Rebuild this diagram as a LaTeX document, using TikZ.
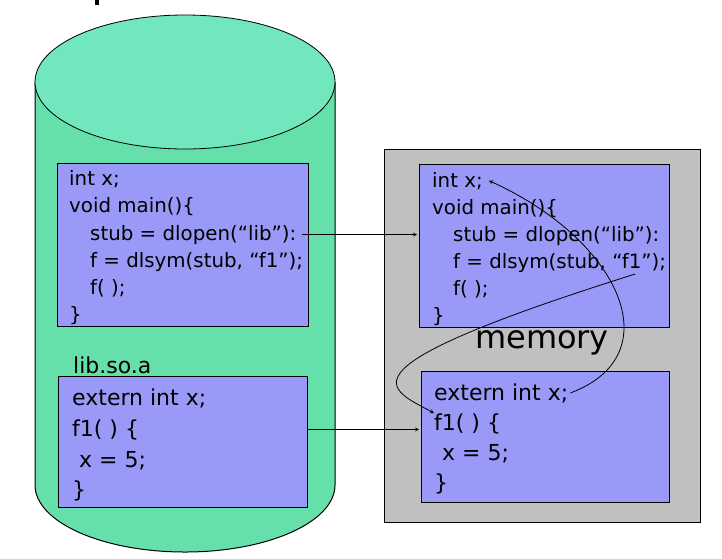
\documentclass[tikz,border=0pt]{standalone}
\usepackage{fontspec}
\setmainfont{DejaVu Sans}
\definecolor{diskside}{RGB}{102,224,170}
\definecolor{disktop}{RGB}{114,230,188}
\definecolor{codeblue}{RGB}{153,153,247}
\definecolor{memgray}{RGB}{192,192,192}
\tikzset{
  codebox/.style={draw=black, line width=1pt, fill=codeblue, anchor=north west, inner sep=0pt},
  smallcode/.style={anchor=base west, inner sep=0pt, font=\fontsize{19.8}{24}\selectfont},
  bigcode/.style={anchor=base west, inner sep=0pt, font=\fontsize{22}{26}\selectfont},
  link/.style={->, line width=0.8pt},
}
\begin{document}
\begin{tikzpicture}[x=1pt, y=-1pt, >=stealth]
    \useasboundingbox (0,0) rectangle (722,558);
    % Cut-off title stroke
    \fill[black] (95,0) rectangle (99,5);

    % Disk
    \fill[diskside] (35,82) -- (35,485)
        arc[start angle=180, end angle=0, x radius=150, y radius=67] -- (335,82) -- cycle;
    \draw[line width=1pt] (35,82) -- (35,485)
        arc[start angle=180, end angle=0, x radius=150, y radius=67] -- (335,82);
    \draw[line width=0.8pt, fill=disktop] (185,82) ellipse[x radius=150, y radius=67];

    % Memory
    \node[draw=black, line width=1pt, fill=memgray, anchor=north west, inner sep=0pt,
          minimum width=316pt, minimum height=373pt] (mem) at (384,149) {};
    \node[anchor=base west, inner sep=0pt, font=\fontsize{32}{38}\selectfont] (memlabel) at (475,348) {memory};

    % Code boxes
    \node[codebox, minimum width=251pt, minimum height=163pt] (ltop) at (57,163) {};
    \node[codebox, minimum width=249pt, minimum height=131pt] (llib) at (58,376) {};
    \node[codebox, minimum width=250pt, minimum height=163pt] (rtop) at (419,164) {};
    \node[codebox, minimum width=248pt, minimum height=131pt] (rlib) at (421,371) {};

    % Program on disk
    \node[smallcode] (lintx) at (69,185) {int x;};
    \node[smallcode] (lmain) at (69,212) {void main()\{};
    \node[smallcode] (lstub) at (90,240) {stub = dlopen(“lib”):};
    \node[smallcode] (lsym)  at (90,267) {f = dlsym(stub, “f1”);};
    \node[smallcode] (lcall) at (90,294) {f( );};
    \node[smallcode] (lend)  at (69,321) {\}};

    % Library on disk
    \node[bigcode] (libname) at (73,373) {lib.so.a};
    \node[bigcode] (lext) at (72,405) {extern int x;};
    \node[bigcode] (lf1)  at (72,436) {f1( ) \{};
    \node[bigcode] (lset) at (79,467) {x = 5;};
    \node[bigcode] (lclose) at (72,497) {\}};

    % Program in memory
    \node[smallcode] (rintx) at (432,187) {int x;};
    \node[smallcode] (rmain) at (432,214) {void main()\{};
    \node[smallcode] (rstub) at (453,241) {stub = dlopen(“lib”):};
    \node[smallcode] (rsym)  at (453,268) {f = dlsym(stub, “f1”);};
    \node[smallcode] (rcall) at (453,295) {f( );};
    \node[smallcode] (rend)  at (432,322) {\}};

    % Library in memory
    \node[bigcode] (rext) at (434,400) {extern int x;};
    \node[bigcode] (rf1)  at (434,430) {f1( ) \{};
    \node[bigcode] (rset) at (442,460) {x = 5;};
    \node[bigcode] (rclose) at (434,490) {\}};

    % Loading
    \draw[link, shorten <=6pt, shorten >=2pt] (lstub.east) -- (rtop.west |- lstub.east);
    \draw[link, shorten >=2pt] (llib.east |- lf1) -- (rlib.west |- lf1);

    % Symbol lookup and binding
    \draw[link] ([shift={(-31,6)}]rsym.base east)
        .. controls (330,370) and (388,388) .. (rf1.north west);
    \draw[link] ([xshift=2pt]rext.east)
        .. controls (672,355) and (620,240) .. ([xshift=6pt]rintx.east);
\end{tikzpicture}
\end{document}
